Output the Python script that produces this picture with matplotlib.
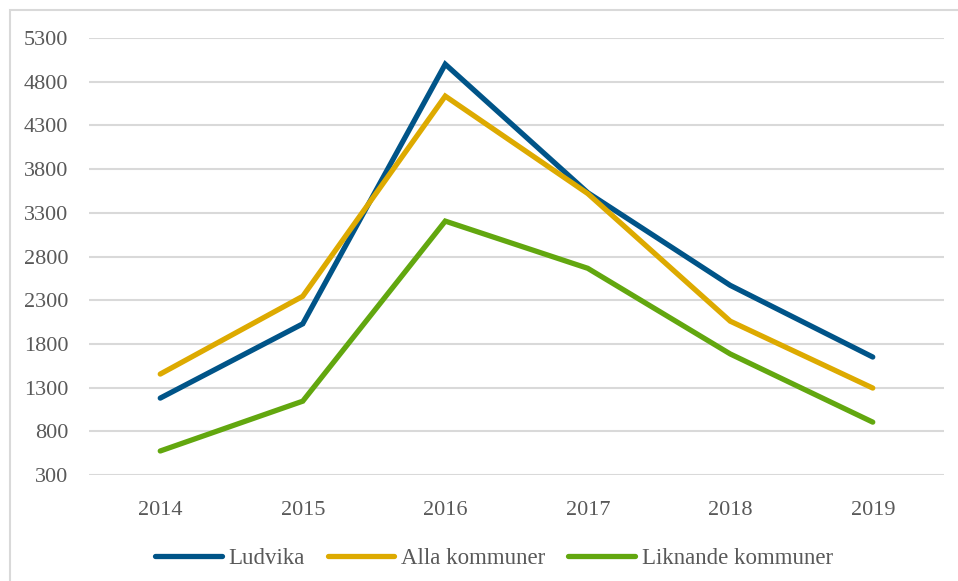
import matplotlib.pyplot as plt
from matplotlib.patches import Rectangle

years = ["2014", "2015", "2016", "2017", "2018", "2019"]
ludvika = [1180, 2030, 5000, 3530, 2470, 1650]
alla = [1455, 2345, 4635, 3520, 2060, 1295]
liknande = [575, 1145, 3205, 2665, 1685, 905]

plt.rcParams["font.family"] = ["Liberation Serif", "DejaVu Serif"]

fig = plt.figure(figsize=(9.58, 5.81), dpi=100)
ax = fig.add_axes([0.0929, 0.1824, 0.8925, 0.7522])

# outer frame, only left and top are visible in the source
fig.patches.append(Rectangle((10 / 958, -0.1), 1.2, 1 - 10 / 581 + 0.1,
                             transform=fig.transFigure, fill=False,
                             edgecolor="#d9d9d9", linewidth=1.5))

x = range(len(years))
ax.plot(x, ludvika, color="#005488", lw=3.8, solid_capstyle="round", solid_joinstyle="miter", label="Ludvika")
ax.plot(x, alla, color="#DDAA00", lw=3.8, solid_capstyle="round", solid_joinstyle="miter", label="Alla kommuner")
ax.plot(x, liknande, color="#62A70F", lw=3.8, solid_capstyle="round", solid_joinstyle="miter", label="Liknande kommuner")

ax.set_xlim(-0.5, 5.5)
ax.set_ylim(300, 5300)
ax.set_yticks(range(300, 5301, 500))
ax.set_xticks(list(x))
ax.set_xticklabels(years)
ax.grid(axis="y", color="#d9d9d9", lw=1.5)
ax.set_axisbelow(True)
for s in ax.spines.values():
    s.set_visible(False)
ax.tick_params(length=0, labelsize=16, labelcolor="#595959")
ax.tick_params(axis="y", pad=15)
ax.tick_params(axis="x", pad=19)

ax.legend(loc="center", bbox_to_anchor=(0.4735, -0.19), ncol=3, frameon=False,
          fontsize=16.5, labelcolor="#595959", handlelength=2.9, handletextpad=0.3,
          columnspacing=1.0)

fig.savefig("out.png", dpi=100)
